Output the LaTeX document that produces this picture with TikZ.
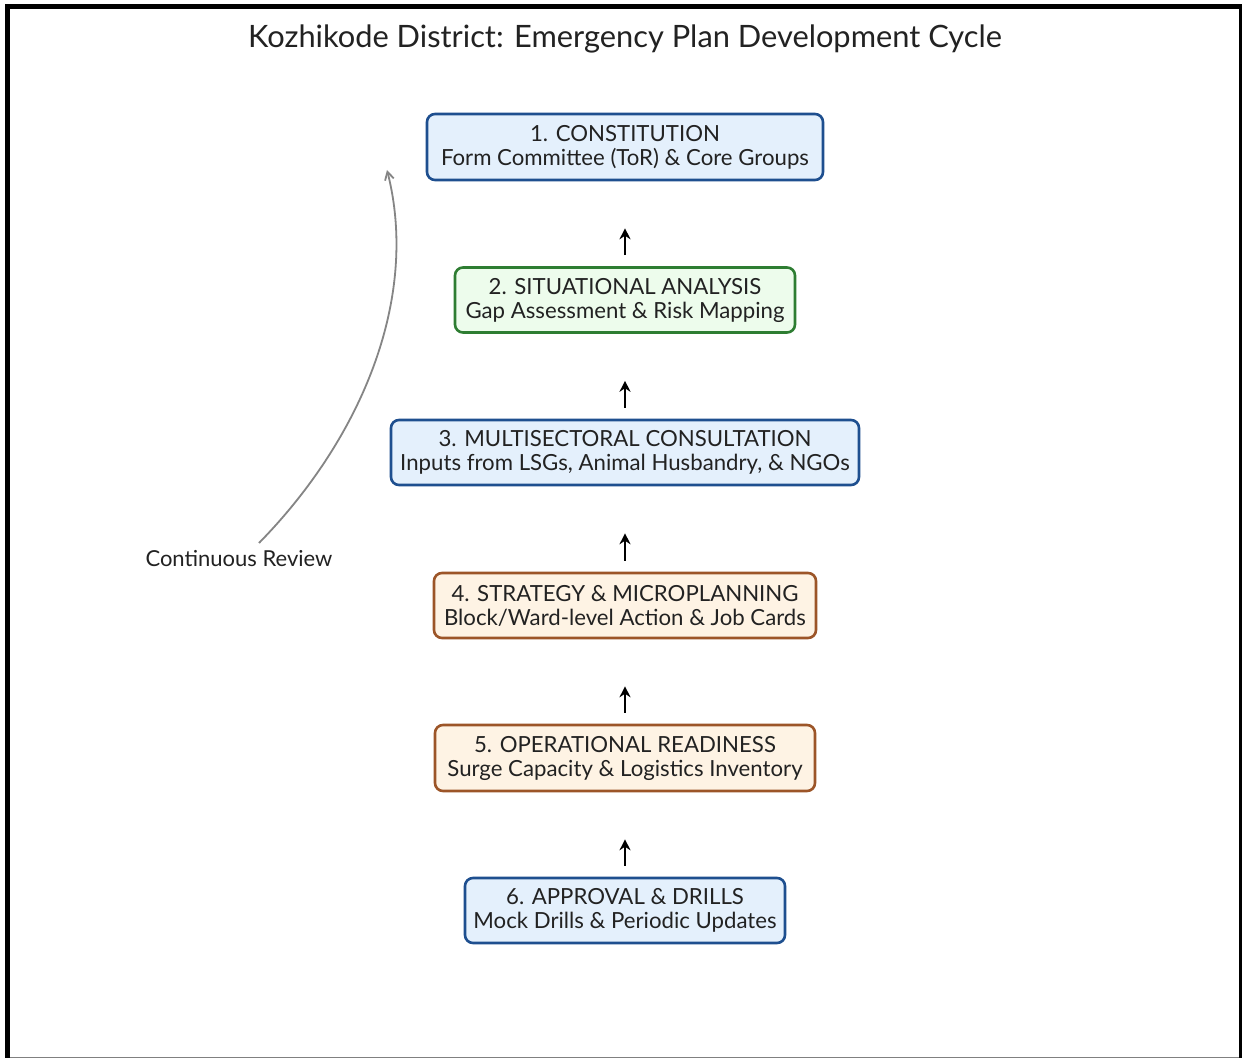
\documentclass[tikz,border=0pt]{standalone}
\usepackage{fontspec}
\setmainfont{Lato}
\usetikzlibrary{arrows.meta}
\definecolor{bluefill}{HTML}{E4F0FC}
\definecolor{blueline}{HTML}{1E4F8F}
\definecolor{greenfill}{HTML}{EDFCEC}
\definecolor{greenline}{HTML}{2E7D32}
\definecolor{orangefill}{HTML}{FEF3E4}
\definecolor{orangeline}{HTML}{9C5528}
\definecolor{txt}{HTML}{222222}
\definecolor{revgray}{HTML}{858585}
\tikzset{
  stage/.style={draw, line width=2.6pt, rounded corners=8pt, align=center,
    font=\fontsize{22.2}{24}\selectfont, text=txt, inner xsep=0pt, inner ysep=0pt},
  bluebox/.style={stage, fill=bluefill, draw=blueline},
  greenbox/.style={stage, fill=greenfill, draw=greenline},
  orangebox/.style={stage, fill=orangefill, draw=orangeline},
  flow/.style={-{Stealth[length=11pt,width=11pt]}, line width=2.8pt, black,
    shorten <=11pt, shorten >=47pt},
}
\begin{document}
\begin{tikzpicture}[x=1pt,y=-1pt]
\useasboundingbox (0,0) rectangle (1242,1059);
\fill[white] (0,0) rectangle (1242,1059);
% frame
\fill[black] (5,4) rectangle (1242,1058);
\fill[white] (10,9) rectangle (1238.5,1057);
\draw[gray, line width=1pt] (10,1057.5) -- (1238.5,1057.5);

\node[font=\fontsize{30.8}{34}\selectfont, text=txt] (title) at (625,38.5)
  {Kozhikode District: Emergency Plan Development Cycle};

\node[bluebox, minimum width=396pt, minimum height=66pt] (s1) at (625,147)
  {1. CONSTITUTION\\Form Committee (ToR) \& Core Groups};
\node[greenbox, minimum width=340pt, minimum height=65pt] (s2) at (625,300)
  {2. SITUATIONAL ANALYSIS\\Gap Assessment \& Risk Mapping};
\node[bluebox, minimum width=468pt, minimum height=65pt] (s3) at (625,452.5)
  {3. MULTISECTORAL CONSULTATION\\Inputs from LSGs, Animal Husbandry, \& NGOs};
\node[orangebox, minimum width=382pt, minimum height=65pt] (s4) at (625,605.5)
  {4. STRATEGY \& MICROPLANNING\\Block/Ward-level Action \& Job Cards};
\node[orangebox, minimum width=380pt, minimum height=66pt] (s5) at (625,758)
  {5. OPERATIONAL READINESS\\Surge Capacity \& Logistics Inventory};
\node[bluebox, minimum width=320pt, minimum height=65pt] (s6) at (625,910.5)
  {6. APPROVAL \& DRILLS\\Mock Drills \& Periodic Updates};

\draw[flow] (s2.north) -- (s1.south);
\draw[flow] (s3.north) -- (s2.south);
\draw[flow] (s4.north) -- (s3.south);
\draw[flow] (s5.north) -- (s4.south);
\draw[flow] (s6.north) -- (s5.south);

\node[font=\fontsize{22}{26}\selectfont, text=txt] (rev) at (239,559) {Continuous Review};
\coordinate (cs) at (259,543);
\coordinate (ce) at (387,170);
\draw[revgray, line width=1.8pt, -{Straight Barb[length=8pt,width=9pt]}]
  (cs) .. controls (360,440) and (420,300) .. (ce);
\end{tikzpicture}
\end{document}
